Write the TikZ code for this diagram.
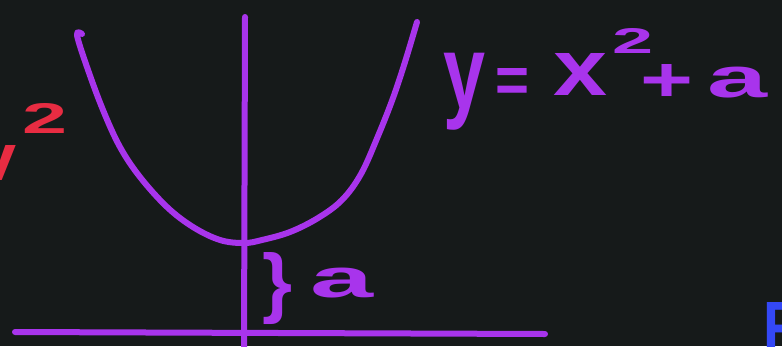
\documentclass[tikz,border=0pt]{standalone}
\usepackage{fontspec}
\usepackage{graphicx}
\setmainfont{Liberation Sans}
\definecolor{bg}{RGB}{22,26,26}
\definecolor{pur}{RGB}{168,52,236}
\definecolor{rd}{RGB}{232,44,66}
\definecolor{bl}{RGB}{52,72,246}
\newcommand\glyphbox[3]{\resizebox*{#1pt}{#2pt}{\bfseries #3}}
\tikzset{
  chalk/.style={draw=pur, line width=6pt, line cap=round, line join=round},
  glyph/.style={inner sep=0pt, outer sep=0pt, anchor=north west}
}
\begin{document}
\begin{tikzpicture}[x=1pt,y=-1pt]
\useasboundingbox (0,0) rectangle (782,346);
\fill[bg] (0,0) rectangle (782,346);
\clip (0,0) rectangle (782,346);
% axes
\coordinate (vtop) at (245,17);
\coordinate (vbot) at (244,352);
\coordinate (hl) at (15,332);
\coordinate (hr) at (545,334);
\draw[chalk] (vtop) -- (vbot);
\draw[chalk] (hl) -- (hr);
% parabola
\draw[chalk] plot[smooth, tension=0.6] coordinates {(82,34) (77,35) (87,67) (103,110) (120,147) (140,177) (167,207) (193,227) (220,240) (244,243) (262,240) (290,232) (318,218) (342,200) (361,174) (378,136) (393,98) (405,62) (417,22)};
% equation y = x^2 + a
\node[glyph, text=pur] (ey) at (443,53) {\glyphbox{42}{77}{y}};
\node[glyph, text=pur] (eeq) at (495,68) {\glyphbox{34}{34}{=}};
\node[glyph, text=pur] (ex) at (553,53) {\glyphbox{54}{42}{x}};
\node[glyph, text=pur] (esq) at (612,28) {\glyphbox{41}{25}{2}};
\node[glyph, text=pur] (eplus) at (640,64) {\glyphbox{53}{37}{+}};
\node[glyph, text=pur] (ea) at (707,67) {\glyphbox{60}{31}{a}};
% brace and a
\node[glyph, text=pur] (brace) at (262,253) {\glyphbox{30}{72}{\}}};
\node[glyph, text=pur] (la) at (310,268) {\glyphbox{63}{30}{a}};
% red v^2 (cut off at left)
\node[glyph, text=rd] (rv) at (-23,145) {\glyphbox{40}{35}{v}};
\node[glyph, text=rd] (r2) at (23,103) {\glyphbox{45}{30}{2}};
% blue letter (cut off at right)
\node[glyph, text=bl] (bF) at (763,302) {\glyphbox{35}{48}{F}};
\end{tikzpicture}
\end{document}
